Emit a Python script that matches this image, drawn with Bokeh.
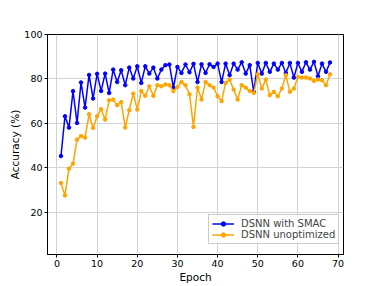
from bokeh.plotting import figure
from bokeh.models import Range1d, FixedTicker, Legend, LegendItem
from bokeh.embed import file_html
from bokeh.resources import INLINE

epochs = list(range(1, 69))
smac = [45.3, 63.2, 58.1, 74.5, 60.2, 78.4, 67.1, 81.8, 71.2, 82.3,
        74.6, 82.4, 73.7, 84.2, 78.6, 83.9, 77.2, 85.1, 80.2, 85.7,
        78.2, 85.7, 82.4, 85.1, 80.2, 84.2, 86.2, 86.5, 76.1, 85.4,
        82.7, 86.5, 83.0, 86.8, 78.6, 86.6, 82.7, 86.6, 85.4, 86.9,
        78.6, 86.9, 81.7, 86.9, 84.2, 87.5, 82.4, 86.2, 74.2, 87.2,
        82.4, 87.2, 83.2, 86.9, 84.2, 87.2, 82.7, 87.2, 80.6, 87.2,
        83.2, 87.5, 84.2, 87.7, 81.2, 86.9, 83.2, 87.4]
unopt = [33.2, 27.6, 39.6, 41.9, 52.7, 54.3, 53.6, 64.1, 57.9, 63.2,
         66.4, 61.7, 70.4, 70.7, 68.2, 69.6, 58.1, 65.9, 73.4, 66.2,
         74.6, 72.4, 76.7, 72.4, 77.2, 76.7, 77.5, 77.2, 74.5, 76.4,
         78.6, 77.2, 73.1, 58.4, 76.1, 70.7, 78.6, 77.2, 76.1, 72.2,
         70.0, 78.2, 79.7, 75.2, 70.7, 77.2, 76.1, 74.6, 73.7, 82.1,
         75.7, 79.7, 72.7, 74.2, 72.2, 75.7, 81.7, 74.2, 75.7, 80.9,
         80.6, 80.6, 80.2, 79.1, 79.7, 79.4, 77.2, 82.1]
x_ticks = [0, 10, 20, 30, 40, 50, 60, 70]
y_ticks = [20, 40, 60, 80, 100]
labels = ["DSNN with SMAC", "DSNN unoptimized"]
colors = ["#0000ff", "#ffa500"]

p = figure(width=381, height=286, output_backend="svg", toolbar_location=None,
           x_range=Range1d(-2.35, 71.35), y_range=Range1d(1, 100),
           min_border_left=47, min_border_right=38, min_border_top=34, min_border_bottom=32)

font = "DejaVu Sans"
items = []
for ys, lab, c in zip([smac, unopt], labels, colors):
    r1 = p.line(epochs, ys, line_color=c, line_width=1.5)
    r2 = p.scatter(epochs, ys, size=3.5, fill_color=c, line_color=c)
    items.append(LegendItem(label=lab, renderers=[r1, r2]))

legend = Legend(items=items, location=(161, 10))
legend.label_text_font = font
legend.label_text_font_size = "10px"
legend.border_line_color = "#cccccc"
legend.border_line_alpha = 1
legend.background_fill_alpha = 0.8
legend.glyph_width = 22
legend.glyph_height = 11
legend.label_height = 11
legend.spacing = 0
legend.padding = 3
legend.margin = 0
legend.label_standoff = 7
p.add_layout(legend)

p.xaxis.ticker = FixedTicker(ticks=x_ticks)
p.yaxis.ticker = FixedTicker(ticks=y_ticks)
p.xaxis.axis_label = "Epoch"
p.yaxis.axis_label = "Accuracy (%)"
for ax in [p.xaxis, p.yaxis]:
    ax.axis_label_text_font = font
    ax.axis_label_text_font_style = "normal"
    ax.axis_label_text_font_size = "10.5px"
    ax.major_label_text_font = font
    ax.major_label_text_font_size = "9.5px"
    ax.minor_tick_line_color = None
    ax.major_tick_out = 3
    ax.major_tick_in = 0
    ax.major_label_standoff = 2
    ax.axis_line_color = "black"
    ax.major_tick_line_color = "black"
    ax.major_label_text_color = "black"
    ax.axis_label_text_color = "black"
p.xaxis.axis_label_standoff = 1
p.yaxis.axis_label_standoff = 0

p.xgrid.grid_line_color = "#d3d3d3"
p.ygrid.grid_line_color = "#d3d3d3"
p.xgrid.grid_line_width = 1
p.ygrid.grid_line_width = 1
p.outline_line_color = "black"
p.outline_line_alpha = 1

open("out.html", "w").write(file_html(p, INLINE))
